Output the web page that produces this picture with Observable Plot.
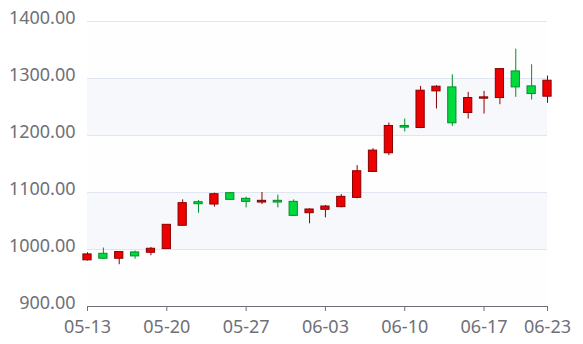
<!DOCTYPE html>
<html>
<head>
<meta charset="utf-8">
<script src="https://cdn.jsdelivr.net/npm/d3@7"></script>
<script src="https://cdn.jsdelivr.net/npm/@observablehq/plot@0.6"></script>
<style>
  html, body { margin: 0; padding: 0; background: #fff; }
</style>
</head>
<body>
<div id="chart"></div>
<script>
const dates = ["05-13","05-14","05-15","05-16","05-17","05-20","05-21","05-22","05-23","05-24",
  "05-27","05-28","05-29","05-30","05-31","06-03","06-04","06-05","06-06","06-07",
  "06-10","06-11","06-12","06-13","06-14","06-17","06-18","06-19","06-20","06-23"];
const open  = [981, 992.5, 983.8, 994.9, 994.3, 1000.7, 1041.6, 1083, 1078.9, 1098.8,
  1088.9, 1082.4, 1085.4, 1083.6, 1063.7, 1069.6, 1074.3, 1090.6, 1136.1, 1168.8,
  1216.7, 1213.2, 1277.4, 1284.4, 1239.5, 1264.6, 1265.7, 1312.4, 1286.2, 1268.1];
const close = [991.4, 983.8, 995.5, 987.9, 1001.3, 1043.3, 1081.3, 1079.5, 1097, 1087.1,
  1083.6, 1085.4, 1082.4, 1059, 1070.2, 1075.4, 1092.4, 1137.3, 1173.5, 1216.7,
  1213.8, 1278.6, 1285.6, 1221.4, 1265.7, 1266.9, 1316.5, 1284.4, 1272.7, 1296.1];
const low   = [979.7, 983, 973.3, 983, 989, 1000, 1040.4, 1063.7, 1074.3, 1086,
  1073, 1078.9, 1073, 1058, 1045.1, 1055.6, 1073, 1088.9, 1135, 1164.7,
  1206.2, 1212, 1246.5, 1216, 1229, 1237.7, 1254, 1266.9, 1262.2, 1256.4];
const high  = [994.3, 1002.5, 995.5, 997.2, 1003.6, 1043.3, 1087.1, 1086, 1098.8, 1100,
  1091.8, 1100, 1095.3, 1087, 1071.3, 1077.2, 1096.4, 1147.2, 1177, 1221.9,
  1228.9, 1286.2, 1287.3, 1306.6, 1275.7, 1277.4, 1316.5, 1351.5, 1324.1, 1304.3];
const yTicks = [900, 1000, 1100, 1200, 1300, 1400];
const xTickIndex = [0, 5, 10, 15, 20, 25, 29];

const idx = d3.range(dates.length);
const up = i => close[i] >= open[i];
const bands = d3.range(yTicks.length - 1).map(k => ({lo: yTicks[k], hi: yTicks[k + 1], k}));

const chart = Plot.plot({
  width: 583,
  height: 344,
  marginLeft: 87,
  marginRight: 36,
  marginTop: 21,
  marginBottom: 38,
  style: {fontFamily: "'Noto Sans', sans-serif", fontSize: "18px", color: "#6E7079", background: "#fff"},
  x: {type: "linear", domain: [0, dates.length - 1]},
  y: {domain: [900, 1400]},
  marks: [
    Plot.rect(bands, {y1: "lo", y2: "hi", fill: d => d.k % 2 === 0 ? "#fefefe" : "#f6f8fc"}),
    Plot.ruleY(yTicks.slice(1), {stroke: "#E0E6F1"}),
    Plot.axisY({ticks: yTicks, tickSize: 0, tickPadding: 12, tickFormat: d => d.toFixed(2), fill: "#6E7079", fontSize: 18, dy: -3, label: null}),
    Plot.ruleY([900], {stroke: "#6E7079"}),
    Plot.axisX({ticks: xTickIndex, tickSize: 5, tickPadding: 9, tickFormat: i => dates[i], stroke: "#6E7079", fill: "#6E7079", fontSize: 18, label: null}),
    Plot.ruleX(idx, {x: i => i, y1: i => low[i], y2: i => high[i], stroke: i => up(i) ? "#8A0000" : "#008F28"}),
    Plot.rect(idx, {
      x1: i => i - 0.26, x2: i => i + 0.26,
      y1: i => open[i], y2: i => close[i],
      fill: i => up(i) ? "#ec0000" : "#00da3c",
      stroke: i => up(i) ? "#8A0000" : "#008F28",
      strokeWidth: 1
    })
  ]
});
document.getElementById("chart").appendChild(chart);
</script>
</body>
</html>
